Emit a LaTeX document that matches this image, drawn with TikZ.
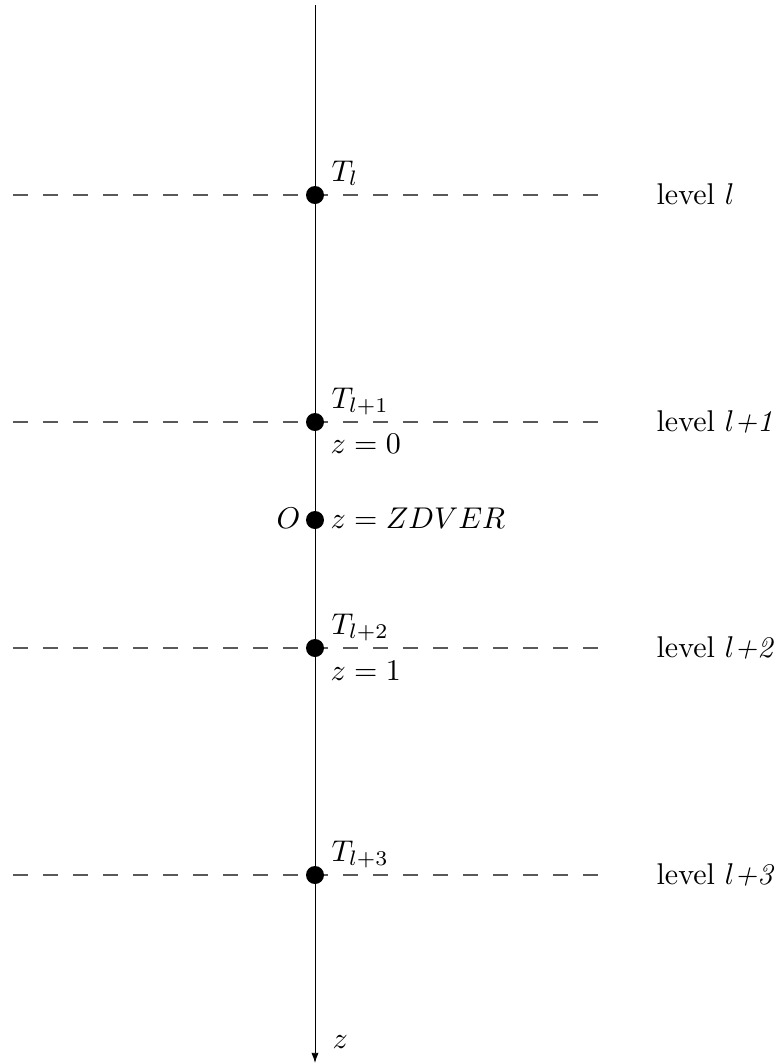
\documentclass[tikz,border=0pt]{standalone}
\usetikzlibrary{arrows.meta}
\begin{document}
\begin{tikzpicture}[x={(0.33333pt,0)},y={(0,-0.33333pt)},
  dot/.style={circle,fill=black,inner sep=0pt,minimum size=6pt},
  levelline/.style={dashed,dash pattern=on 5pt off 5pt,line width=0.4pt,draw=black!65},
  lab/.style={anchor=base west,inner sep=0pt},
  axisline/.style={line width=0.3pt,-{Latex[length=3.4pt,width=2.4pt]}}]
\useasboundingbox (0,0) rectangle (776,1064);
% axis
\coordinate (top) at (315,5);
\coordinate (bot) at (315,1063);
\draw[axisline] (top) -- (bot);
\node[lab] (zlab) at (332,1048) {$z$};
% levels
\foreach \name/\yy/\tl/\lv in {a/195/{T_l}/{l},b/422/{T_{l+1}}/{l\textit{+1}},c/648/{T_{l+2}}/{l\textit{+2}},d/875/{T_{l+3}}/{l\textit{+3}}}{
  \coordinate (\name L) at (13,\yy);
  \coordinate (\name R) at (613,\yy);
  \draw[levelline] (\name L) -- (\name R);
  \node[dot] (\name) at (315,\yy) {};
  \node[lab] (\name T) at (331,\yy-14) {$\tl$};
  \node[lab] (\name V) at (656,\yy+9) {level $\lv$};
}
\node[lab] (z0) at (330,453) {$z=0$};
\node[lab] (z1) at (330,680) {$z=1$};
\node[dot] (O) at (315,520) {};
\node[lab] (zd) at (330,528) {$z=ZDVER$};
\node[anchor=base east,inner sep=0pt] (Olab) at (301,528) {$O$};
\end{tikzpicture}
\end{document}
